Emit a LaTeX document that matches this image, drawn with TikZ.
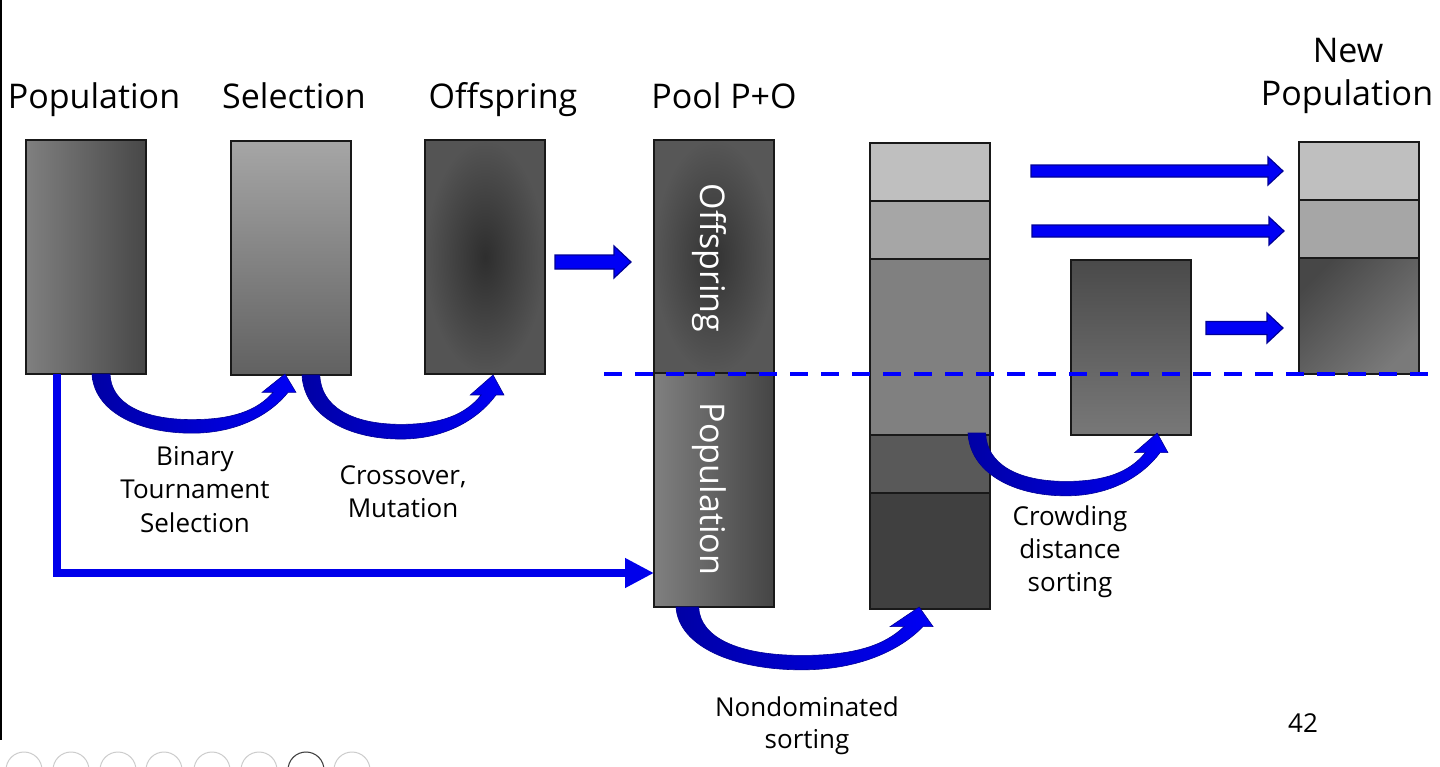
\documentclass[tikz,border=0pt]{standalone}
\usepackage{fontspec}
\setmainfont{Open Sans}
\usetikzlibrary{arrows.meta}
\definecolor{ablue}{RGB}{0,0,245}
\definecolor{adark}{RGB}{0,0,165}
\definecolor{aedge}{RGB}{0,0,150}
\definecolor{dblue}{RGB}{0,0,255}
\definecolor{lblue}{RGB}{0,0,235}
\newcommand{\crvarrow}[1]{\shade[crv,#1] (0,0) .. controls (2,38) and (45,61) .. (100,61) .. controls (145,61) and (178,42) .. (196,19) -- (204,19) -- (193,0) -- (170,19) -- (181,19) .. controls (165,38) and (140,47) .. (100,47) .. controls (50,47) and (19,30) .. (18,0) -- cycle;}
\newcommand{\blkarrow}[6]{\filldraw[blk] (#1,#3-#4) -- (#2-#6,#3-#4) -- (#2-#6,#3-#5) -- (#2,#3) -- (#2-#6,#3+#5) -- (#2-#6,#3+#4) -- (#1,#3+#4) -- cycle;}
\begin{document}
\begin{tikzpicture}[x=1pt,y=-1pt,
  box/.style={draw=black!90, line width=1.8pt, minimum width=120pt, inner sep=0pt, outer sep=0pt, anchor=north west},
  head/.style={font=\fontsize{34}{40}\selectfont, anchor=base, inner sep=0pt},
  lab/.style={font=\fontsize{26}{33}\selectfont, anchor=base, inner sep=0pt},
  rot/.style={font=\fontsize{34}{40}\selectfont, text=white, rotate=-90, inner sep=0pt},
  crv/.style={left color=adark, right color=ablue, draw=aedge, line width=0.6pt},
  blk/.style={fill=ablue, draw=aedge, line width=1.2pt},
  dashline/.style={dblue, line width=4pt, dash pattern=on 18pt off 13pt},
  mainline/.style={lblue, line width=8pt, -{Triangle[length=29pt,width=28pt]}},
  icon/.style={draw=black!20, line width=1pt}
]
\useasboundingbox (0,0) rectangle (1440,766);
\clip (0,0) rectangle (1440,766);
\fill[white] (0,0) rectangle (1440,766);
\draw[line width=1.5pt] (0.8,0) -- (0.8,740);

% headings
\node[head] (hpop) at (94,108) {Population};
\node[head] (hsel) at (294,108) {Selection};
\node[head] (hoff) at (503,108) {Offspring};
\node[head] (hpool) at (724,108) {Pool P+O};
\node[head] (hnew1) at (1348,62) {New};
\node[head] (hnew2) at (1347,105) {Population};

% boxes
\node[box, minimum height=234pt, left color=black!50, right color=black!72] (pop) at (26,140) {};
\node[box, minimum height=234pt, top color=black!35, bottom color=black!62] (sel) at (231,141) {};
\node[box, minimum height=234pt, inner color=black!82, outer color=black!67] (off) at (425,140) {};
\node[box, minimum height=233pt, inner color=black!80, outer color=black!66] (poolo) at (654,140) {};
\node[box, minimum height=234pt, left color=black!50, right color=black!73] (poolp) at (654,373) {};
\node[rot] (tOff) at (709,258) {Offspring};
\node[rot] (tPop) at (709,489) {Population};

\node[box, minimum height=58pt, fill=black!25] (s1) at (870,143) {};
\node[box, minimum height=58pt, fill=black!35] (s2) at (870,201) {};
\node[box, minimum height=176pt, fill=black!50] (s3) at (870,259) {};
\node[box, minimum height=58pt, fill=black!65] (s4) at (870,435) {};
\node[box, minimum height=116pt, fill=black!75] (s5) at (870,493) {};

\node[box, minimum height=175pt, top color=black!71, bottom color=black!53] (crowd) at (1071,260) {};

\node[box, minimum height=58pt, fill=black!25] (n1) at (1299,142) {};
\node[box, minimum height=58pt, fill=black!35] (n2) at (1299,200) {};
\node[box, minimum height=116pt, top color=black!72, bottom color=black!52, shading angle=45] (n3) at (1299,258) {};

% dashed separator
\coordinate (dstart) at (604,374);
\coordinate (dend) at (1445,374);
\draw[dashline] (dstart) -- (dend);

% L-shaped connector
\coordinate (lstart) at (57,374);
\coordinate (lend) at (654,573);
\draw[mainline] (lstart) |- (lend);

% straight block arrows
\blkarrow{555}{631}{262}{7}{16}{17}
\blkarrow{1031}{1283}{171}{6}{14}{15}
\blkarrow{1032}{1284}{231}{6}{14}{15}
\blkarrow{1206}{1283}{328}{6.5}{15}{16}

% curved arrows
\crvarrow{shift={(92,374)}, yscale=0.97}
\crvarrow{shift={(302,375)}, xscale=0.99, yscale=1.05}
\crvarrow{shift={(676,607)}, xscale=1.26, yscale=1.03}
\crvarrow{shift={(968,433)}, xscale=0.98, yscale=1.03}

% labels
\node[lab] (b1) at (195,465) {Binary};
\node[lab] (b2) at (195,498) {Tournament};
\node[lab] (b3) at (195,532) {Selection};
\node[lab] (c1) at (403,484) {Crossover,};
\node[lab] (c2) at (403,517) {Mutation};
\node[lab] (nd1) at (807,716) {Nondominated};
\node[lab] (nd2) at (807,748) {sorting};
\node[lab] (cd1) at (1070,525) {Crowding};
\node[lab] (cd2) at (1070,558) {distance};
\node[lab] (cd3) at (1070,591) {sorting};
\node[lab] (pg) at (1303,732) {42};

% faint viewer icons
\foreach \cx [count=\i] in {24,71,118,164,212,259,306,352}{
  \draw[icon] (\cx,770) circle (18);
}
\draw[draw=black!75, line width=1pt] (306,770) circle (18);
\end{tikzpicture}
\end{document}
